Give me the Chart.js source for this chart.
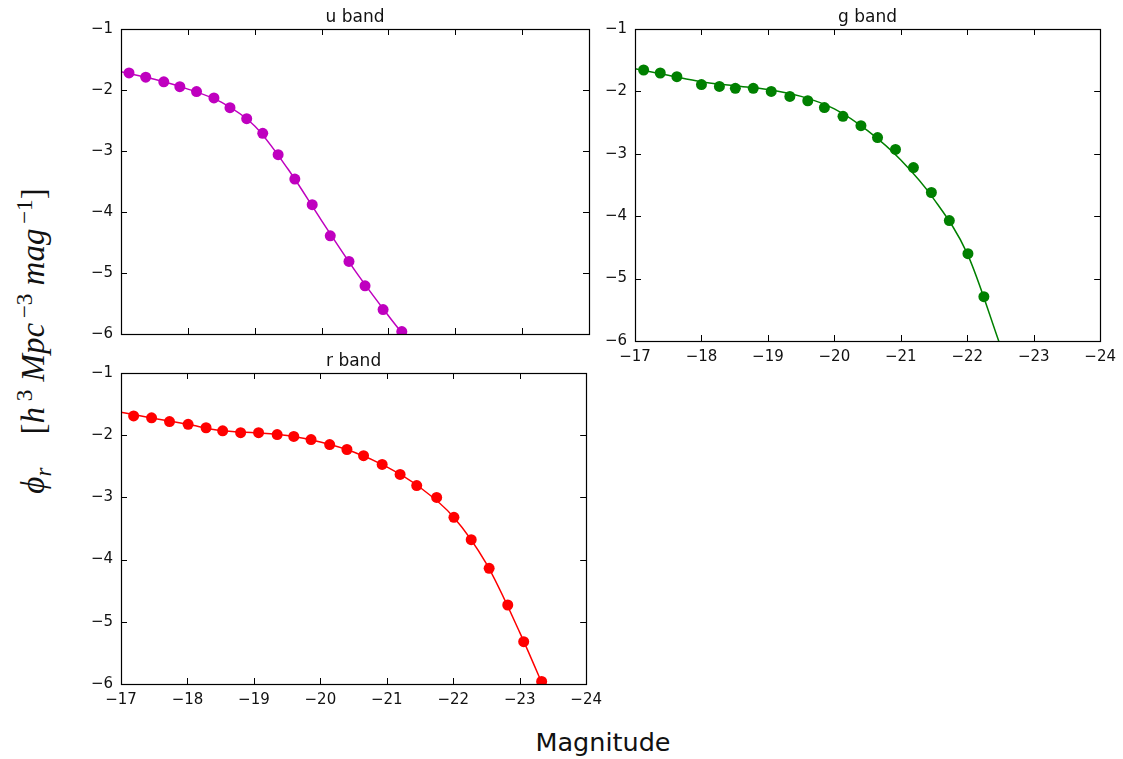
<!DOCTYPE html>
<html>
<head>
<meta charset="utf-8">
<script src="https://cdn.jsdelivr.net/npm/chart.js@4.4.0/dist/chart.umd.min.js"></script>
<style>
  body { margin: 0; background: #fff; width: 1123px; height: 759px; position: relative; overflow: hidden; }
  canvas { position: absolute; }
  #ylab { position: absolute; left: 34px; top: 341px; transform: translate(-50%, -50%) rotate(-90deg);
          white-space: nowrap; font: 33px 'Liberation Serif', 'DejaVu Serif', serif; color: #111; }
  #ylab sup, #ylab sub { font-size: 0.7em; }
  #xlab { position: absolute; left: 603px; top: 742px; transform: translate(-50%, -50%);
          font: 25.5px 'DejaVu Sans', sans-serif; color: #111; white-space: nowrap; }
</style>
</head>
<body>
<canvas id="uChart" width="538" height="348" style="left:71px;top:3px;width:538px;height:348px"></canvas>
<canvas id="gChart" width="538" height="368" style="left:585px;top:3px;width:538px;height:368px"></canvas>
<canvas id="rChart" width="538" height="367" style="left:71px;top:347px;width:538px;height:367px"></canvas>
<div id="ylab"><i>ϕ<sub>r</sub></i>&nbsp;&nbsp;&nbsp;&nbsp;[<i>h</i><sup>&nbsp;3</sup>&nbsp;<i>Mpc</i><sup>&thinsp;−3</sup>&nbsp;<i>mag</i><sup>&thinsp;−1</sup>]</div>
<div id="xlab">Magnitude</div>

<script>
// binned luminosity function
var uMag = [-17.12, -17.37, -17.64, -17.88, -18.13, -18.39, -18.63, -18.88, -19.12, -19.35, -19.60, -19.86, -20.13, -20.41, -20.65, -20.92, -21.20]
var uPhi = [-1.72, -1.79, -1.865, -1.946, -2.026, -2.13, -2.29, -2.47, -2.71, -3.06, -3.46, -3.88, -4.39, -4.81, -5.21, -5.60, -5.96]
var uFitMag = [-17.0, -17.5, -18.0, -18.5, -19.0, -19.5, -20.0, -20.5, -21.0, -21.25]
var uFitPhi = [-1.70, -1.825, -1.985, -2.20, -2.59, -3.30, -4.14, -4.96, -5.70, -6.05]

var gMag = [-17.13, -17.38, -17.63, -18.00, -18.27, -18.51, -18.78, -19.05, -19.33, -19.60, -19.85, -20.13, -20.40, -20.65, -20.92, -21.19, -21.46, -21.73, -22.01, -22.25]
var gPhi = [-1.657, -1.705, -1.764, -1.89, -1.92, -1.95, -1.95, -2.00, -2.08, -2.15, -2.26, -2.40, -2.55, -2.74, -2.93, -3.22, -3.62, -4.07, -4.60, -5.29]
var gFitMag = [-17.0, -17.5, -18.0, -18.5, -19.0, -19.5, -20.0, -20.5, -21.0, -21.5, -22.0, -22.5]
var gFitPhi = [-1.635, -1.74, -1.845, -1.91, -1.97, -2.08, -2.28, -2.63, -3.10, -3.73, -4.60, -6.08]

var rMag = [-17.19, -17.46, -17.73, -18.01, -18.28, -18.53, -18.80, -19.07, -19.35, -19.60, -19.86, -20.14, -20.40, -20.65, -20.93, -21.20, -21.45, -21.75, -22.01, -22.27, -22.54, -22.82, -23.06, -23.33]
var rPhi = [-1.69, -1.72, -1.78, -1.825, -1.88, -1.93, -1.96, -1.96, -1.99, -2.02, -2.07, -2.15, -2.23, -2.33, -2.47, -2.63, -2.81, -3.00, -3.32, -3.68, -4.14, -4.73, -5.32, -5.96]
var rFitMag = [-17.0, -17.5, -18.0, -18.5, -19.0, -19.5, -20.0, -20.5, -21.0, -21.5, -22.0, -22.5, -23.0, -23.4]
var rFitPhi = [-1.63, -1.73, -1.825, -1.925, -1.96, -2.005, -2.11, -2.27, -2.51, -2.84, -3.31, -4.07, -5.17, -6.15]

var xTicks = [-17, -18, -19, -20, -21, -22, -23, -24]
var yTicks = [-1, -2, -3, -4, -5, -6]

function pairs(xs, ys) {
    return xs.map(function (x, i) { return {x: x, y: ys[i]} })
}

function fmt(v) {
    return (v < 0 ? '\u2212' : '') + Math.abs(v)
}

// matplotlib classic look: frame plus inward ticks on every side
var framePlugin = {
    id: 'frame',
    afterDraw: function (chart) {
        var a = chart.chartArea, c = chart.ctx
        var L = 6
        c.save()
        c.strokeStyle = '#000'
        c.lineWidth = 1
        c.beginPath()
        xTicks.forEach(function (t) {
            var px = Math.round(chart.scales.x.getPixelForValue(t)) + 0.5
            c.moveTo(px, a.top); c.lineTo(px, a.top + L)
            c.moveTo(px, a.bottom); c.lineTo(px, a.bottom - L)
        })
        yTicks.forEach(function (t) {
            var py = Math.round(chart.scales.y.getPixelForValue(t)) + 0.5
            c.moveTo(a.left, py); c.lineTo(a.left + L, py)
            c.moveTo(a.right, py); c.lineTo(a.right - L, py)
        })
        c.stroke()
        c.lineWidth = 1.2
        c.strokeRect(Math.round(a.left) + 0.5, Math.round(a.top) + 0.5,
                     Math.round(a.right - a.left), Math.round(a.bottom - a.top))
        c.restore()
    }
}

function makePanel(id, title, color, mag, phi, fitMag, fitPhi, showX) {
    var ctx = document.getElementById(id).getContext('2d')
    return new Chart(ctx, {
        type: 'scatter',
        data: {
            datasets: [{
                data: pairs(mag, phi),
                showLine: false,
                pointRadius: 5.5,
                pointHoverRadius: 5.5,
                backgroundColor: color,
                borderWidth: 0,
                order: 1
            }, {
                data: pairs(fitMag, fitPhi),
                showLine: true,
                pointRadius: 0,
                borderColor: color,
                borderWidth: 1.5,
                cubicInterpolationMode: 'monotone',
                order: 2
            }]
        },
        options: {
            responsive: false,
            animation: false,
            layout: { padding: { top: 0, right: 20, bottom: showX ? 0 : 10, left: 0 } },
            plugins: {
                legend: { display: false },
                tooltip: { enabled: false },
                title: {
                    display: true,
                    fullSize: false,
                    text: title,
                    color: '#111',
                    font: { family: 'DejaVu Sans', size: 17, weight: 'normal', lineHeight: 1.2 },
                    padding: { top: 4, bottom: 1.6 }
                }
            },
            scales: {
                x: {
                    type: 'linear',
                    min: -24, max: -17,
                    reverse: true,
                    grid: { display: false, drawTicks: false },
                    border: { display: false },
                    afterFit: function (s) { s.height = showX ? 30 : 0 },
                    afterBuildTicks: function (s) { s.ticks = xTicks.map(function (v) { return {value: v} }) },
                    ticks: {
                        display: showX,
                        padding: 7,
                        color: '#111',
                        maxRotation: 0,
                        font: { family: 'DejaVu Sans', size: 15 },
                        callback: fmt
                    }
                },
                y: {
                    min: -6, max: -1,
                    grid: { display: false, drawTicks: false },
                    border: { display: false },
                    afterFit: function (s) { s.width = 50 },
                    afterBuildTicks: function (s) { s.ticks = yTicks.map(function (v) { return {value: v} }) },
                    ticks: {
                        padding: 8,
                        color: '#111',
                        font: { family: 'DejaVu Sans', size: 15 },
                        callback: fmt
                    }
                }
            }
        },
        plugins: [framePlugin]
    })
}

makePanel('uChart', 'u band', '#bf00bf', uMag, uPhi, uFitMag, uFitPhi, false)
makePanel('gChart', 'g band', '#008000', gMag, gPhi, gFitMag, gFitPhi, true)
makePanel('rChart', 'r band', '#ff0000', rMag, rPhi, rFitMag, rFitPhi, true)
</script>
</body>
</html>
